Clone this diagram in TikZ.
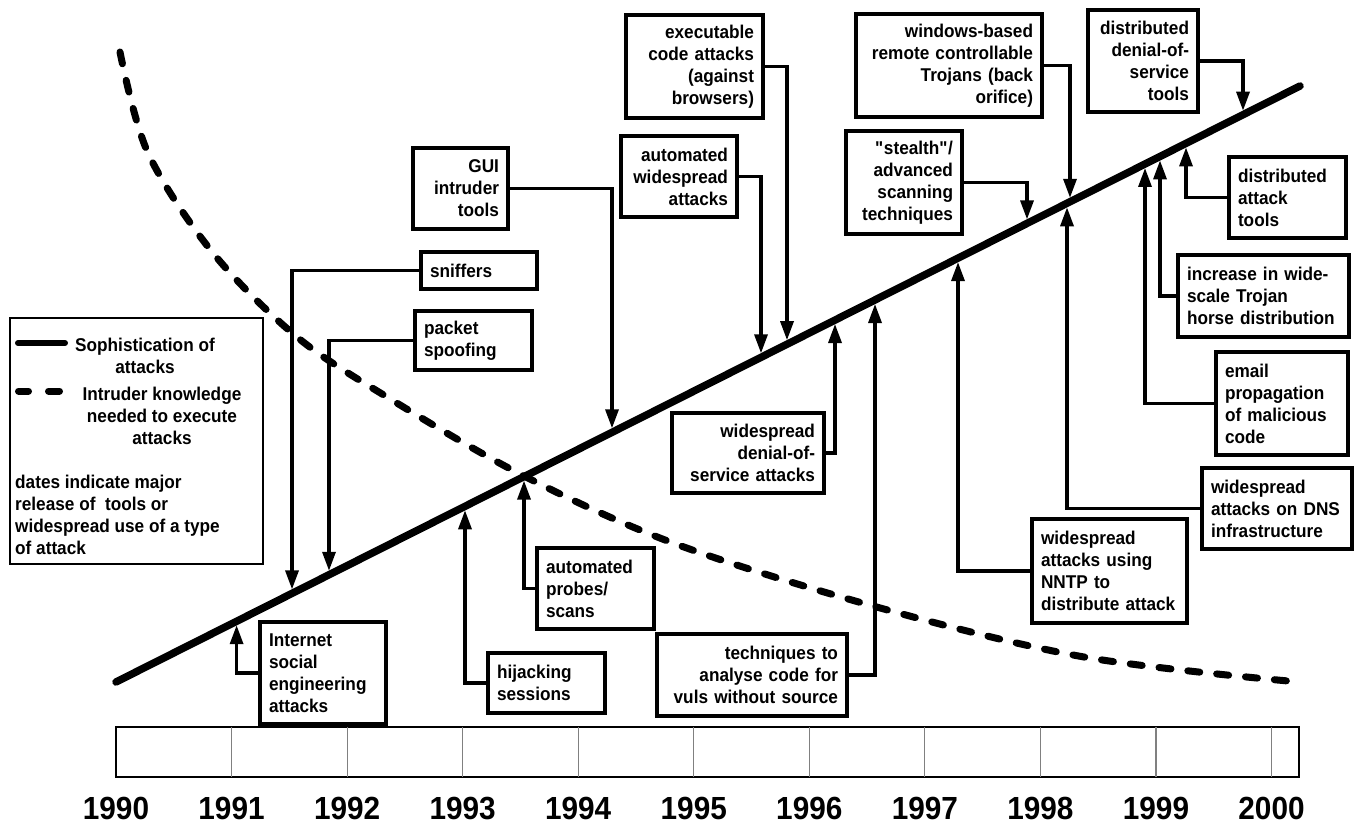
\documentclass[tikz,border=0pt]{standalone}
\usepackage{fontspec}
\setmainfont{Liberation Sans}[FakeStretch=0.93]
\usetikzlibrary{arrows.meta}
\begin{document}
\begin{tikzpicture}[x=1pt,y=-1pt,
  lab/.style={font=\fontsize{18.5}{22}\selectfont\bfseries, inner sep=0pt},
  bx/.code n args={3}{\pgfmathsetmacro\bxtw{#1-18}\tikzset{draw, line width=3.3pt, fill=white, font=\fontsize{18.5}{22}\selectfont\bfseries, minimum width=#1pt, minimum height=#2pt, text width=\bxtw pt, inner xsep=9pt, inner ysep=0pt, align=#3}},
  conn/.style={line width=3.3pt, -{Triangle[length=19pt,width=13pt]}},
  year/.style={font=\fontsize{32}{32}\selectfont\bfseries, inner sep=0pt},
  mainline/.style={line width=7.5pt, line cap=round},
  knowline/.style={line width=7pt, line cap=round, dash pattern=on 12pt off 17pt},
]
\useasboundingbox (0,0) rectangle (1359,826);

% timeline bar
\draw[line width=1.8pt] (116,727) rectangle (1299,777);
\foreach \k in {1,...,10}
  \draw[gray, line width=1.2pt] ({116+115.55*\k},727) -- ({116+115.55*\k},777);
\foreach \k/\yr in {0/1990,1/1991,2/1992,3/1993,4/1994,5/1995,6/1996,7/1997,8/1998,9/1999,10/2000}
  \node[year] (y\yr) at ({116+115.55*\k},808) {\yr};

% curves
\coordinate (L0) at (116,682);
\coordinate (L1) at (1300,86);
\draw[knowline] plot[smooth, tension=0.55] coordinates {(120,52) (148,153) (213,253) (297,337) (387,397) (522,475) (673,543) (873,606) (1084,657) (1299,682)};
\draw[mainline] (L0) -- (L1);

% legend
\node[draw, line width=1.3pt, minimum width=253pt, minimum height=246pt, inner sep=0pt] (legend) at (136.5,441) {};
\draw[line width=6pt, line cap=round] (18,343) -- (65,343);
\node[lab, align=center] (lsoph) at (145,356) {Sophistication of\\attacks};
\draw[line width=7pt, line cap=round] (18.5,391) -- (28.5,391) (48.5,391) -- (59.5,391);
\node[lab, align=center] (lintr) at (162,416) {Intruder knowledge\\needed to execute\\attacks};
\node[lab, align=left, anchor=west] (ldates) at (15,514.5) {dates indicate major\\release of~ tools or\\widespread use of a type\\of attack};

% boxes
\node[bx={126}{102}{left}] (inet) at (323,673) {Internet\\social\\engineering\\attacks};
\node[bx={117}{60}{left}] (hijack) at (546.5,683) {hijacking\\sessions};
\node[bx={117}{81}{left}] (probes) at (595.5,588.5) {automated\\probes/\\scans};
\node[bx={190}{82}{right}] (techn) at (752,675) {techniques to\\analyse code for\\vuls without source};
\node[bx={152}{80}{right}] (wdos) at (748,453) {widespread\\denial-of-\\service attacks};
\node[bx={95}{81}{right}] (gui) at (460.5,188.5) {GUI\\intruder\\tools};
\node[bx={116}{37}{left}] (sniff) at (479,270.5) {sniffers};
\node[bx={117}{59}{left}] (packet) at (473.5,340.5) {packet\\spoofing};
\node[bx={116}{81}{right}] (autow) at (679,176.5) {automated\\widespread\\attacks};
\node[bx={137}{103}{right}] (exec) at (694.5,66.5) {executable\\code attacks\\(against\\browsers)};
\node[bx={116}{103}{right}] (stealth) at (904,182.5) {\textquotedbl stealth\textquotedbl/\\advanced\\scanning\\techniques};
\node[bx={186}{103}{right}] (windows) at (949,65.5) {windows-based\\remote controllable\\Trojans (back\\orifice)};
\node[bx={110}{102}{right}] (ddos) at (1143,61) {distributed\\denial-of-\\service\\tools};
\node[bx={117}{81}{left}] (dat) at (1287.5,197.5) {distributed\\attack\\tools};
\node[bx={171}{82}{left}] (incr) at (1263.5,296) {increase in wide-\\scale Trojan\\horse distribution};
\node[bx={132}{103}{left}] (email) at (1282,403.5) {email\\propagation\\of malicious\\code};
\node[bx={150}{81}{left}] (dns) at (1277,508.5) {widespread\\attacks on DNS\\infrastructure};
\node[bx={155}{104}{left}] (nntp) at (1109.5,571) {widespread\\attacks using\\NNTP to\\distribute attack};

% arrow tips on the sophistication line
\coordinate (tinet) at (236.6,625.2);
\coordinate (thijack) at (465,510.3);
\coordinate (tprobes) at (524,480.6);
\coordinate (ttechn) at (875,304);
\coordinate (twdos) at (835,324);
\coordinate (tgui) at (612,428.3);
\coordinate (tsniff) at (292,589.4);
\coordinate (tpacket) at (329,570.8);
\coordinate (tautow) at (761,353.3);
\coordinate (texec) at (787,340.2);
\coordinate (tstealth) at (1027,219.4);
\coordinate (twindows) at (1070,197.8);
\coordinate (tddos) at (1243,110.7);
\coordinate (tdat) at (1186,147.4);
\coordinate (tincr) at (1160,160.4);
\coordinate (temail) at (1145,168);
\coordinate (tdns) at (1067,207.3);
\coordinate (tnntp) at (958,262.1);

% connectors
\draw[conn] (inet.west) -| (tinet);
\draw[conn] (hijack.west) -| (thijack);
\draw[conn] (probes.west) -| (tprobes);
\draw[conn] (techn.east) -| (ttechn);
\draw[conn] (wdos.east) -| (twdos);
\draw[conn] (gui.east) -| (tgui);
\draw[conn] (sniff.west) -| (tsniff);
\draw[conn] (packet.west) -| (tpacket);
\draw[conn] (autow.east) -| (tautow);
\draw[conn] (exec.east) -| (texec);
\draw[conn] (stealth.east) -| (tstealth);
\draw[conn] (windows.east) -| (twindows);
\draw[conn] (ddos.east) -| (tddos);
\draw[conn] (dat.west) -| (tdat);
\draw[conn] (incr.west) -| (tincr);
\draw[conn] (email.west) -| (temail);
\draw[conn] (dns.west) -| (tdns);
\draw[conn] (nntp.west) -| (tnntp);
\end{tikzpicture}
\end{document}
